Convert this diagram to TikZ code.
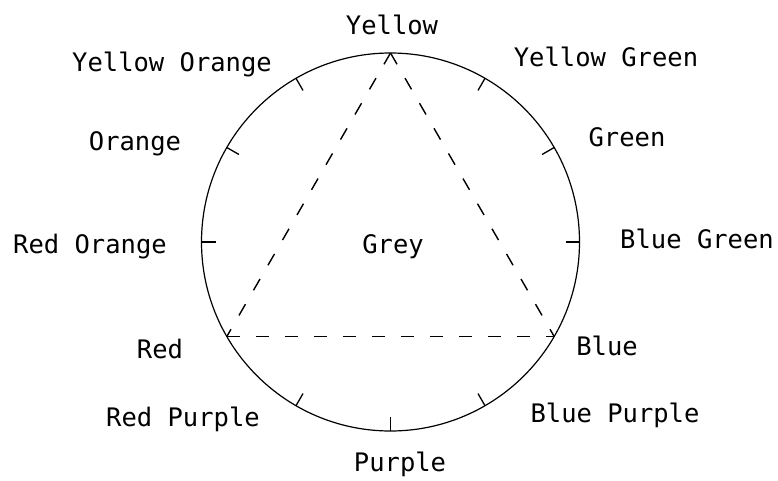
\documentclass[tikz,border=0pt]{standalone}
\usepackage{fontspec}
\newfontfamily\plotfont{DejaVu Sans Mono}
\usetikzlibrary{calc}
\begin{document}
\begin{tikzpicture}[x=1pt,y=-1pt,
  wheel/.style={draw, circle, minimum size=378pt, inner sep=0pt, outer sep=0pt, line width=1.2pt},
  tickmark/.style={line width=1.3pt},
  tri/.style={line width=1.4pt, dash pattern=on 13pt off 16pt},
  lbl/.style={anchor=base, inner sep=0pt, font=\plotfont\fontsize{25.5}{28}\selectfont}]
\useasboundingbox (0,0) rectangle (778,481);
\node[wheel] (w) at (390.5,242) {};
% tick marks
\foreach \a in {0,30,60,120,150,180,240,270,300}{
  \draw[tickmark] (w.\a) -- ($(w.\a)!14pt!(w.center)$);
}
% triangle
\draw[tri] (w.90) -- (w.210);
\draw[tri] (w.210) -- (w.330);
\draw[tri] (w.90) -- (w.330);
% labels
\node[lbl] (ye) at (392,35) {Yellow};
\node[lbl] (yo) at (172,72) {Yellow Orange};
\node[lbl] (or) at (135,150) {Orange};
\node[lbl] (ro) at (90,253) {Red Orange};
\node[lbl] (re) at (160,358) {Red};
\node[lbl] (rp) at (183,426) {Red Purple};
\node[lbl] (pu) at (400,471) {Purple};
\node[lbl] (bp) at (615,422) {Blue Purple};
\node[lbl] (bl) at (607,355) {Blue};
\node[lbl] (bg) at (697,248) {Blue Green};
\node[lbl] (gr) at (627,147) {Green};
\node[lbl] (yg) at (606,67) {Yellow Green};
\node[lbl] (gy) at (393,253) {Grey};
\end{tikzpicture}
\end{document}
